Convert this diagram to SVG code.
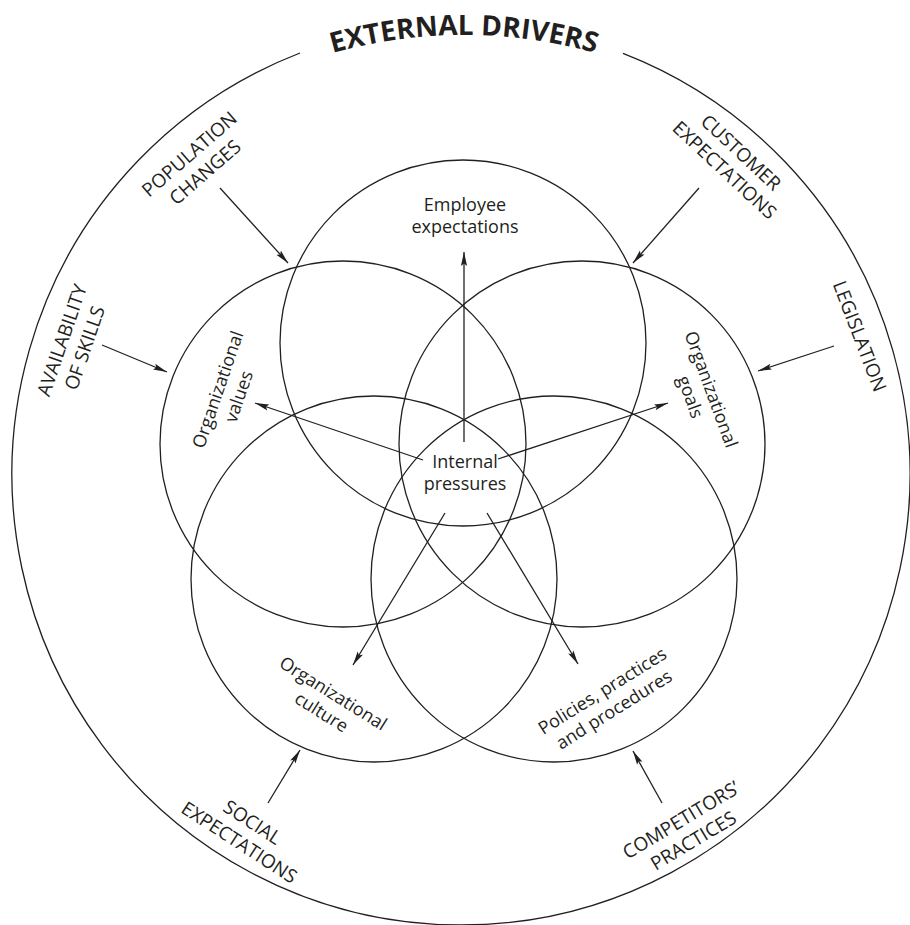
<svg xmlns="http://www.w3.org/2000/svg" width="910" height="925" viewBox="0 0 910 925">
<defs>
<style>
.c{fill:none;stroke:#231f20;stroke-width:1.3}
.t{font-family:"Open Sans","Liberation Sans",sans-serif;font-size:18px;fill:#231f20;text-anchor:middle}
.x{font-family:"Open Sans","Liberation Sans",sans-serif;font-size:19px;fill:#231f20;text-anchor:middle}
.h{font-family:"Open Sans","Liberation Sans",sans-serif;font-size:28px;font-weight:bold;fill:#231f20}
.a{stroke:#231f20;stroke-width:1.3;fill:none;marker-end:url(#ah)}
</style>
<marker id="ah" markerUnits="userSpaceOnUse" markerWidth="16" markerHeight="8" refX="14" refY="4" orient="auto">
<path d="M0,0.9 L14,4 L0,7.1 L2.5,4 z" fill="#231f20"/>
</marker>
<path id="titleArc" d="M 259 80.4 A 485 485 0 0 1 669 80.4" fill="none"/>
</defs>
<rect width="910" height="925" fill="#ffffff"/>

<g id="external-drivers">
<path class="c" d="M 623 53.4 A 449 451 0 1 1 300 53"/>
<text class="h"><textPath href="#titleArc" startOffset="50%" text-anchor="middle">EXTERNAL DRIVERS</textPath></text>
</g>

<g id="employee-expectations">
<circle class="c" cx="463" cy="343" r="183"/>
<text class="t" x="465" y="211">Employee</text>
<text class="t" x="465" y="233">expectations</text>
</g>

<g id="organizational-values">
<circle class="c" cx="343" cy="444" r="183"/>
<text class="t" transform="translate(228,393) rotate(-71)"><tspan x="0" y="-4.5">Organizational</tspan><tspan x="0" y="17.5">values</tspan></text>
</g>

<g id="organizational-goals">
<circle class="c" cx="582" cy="444" r="183"/>
<text class="t" transform="translate(701,393) rotate(70)"><tspan x="0" y="-4.5">Organizational</tspan><tspan x="0" y="17.5">goals</tspan></text>
</g>

<g id="organizational-culture">
<circle class="c" cx="374" cy="579" r="183"/>
<text class="t" transform="translate(327.5,702.5) rotate(32)"><tspan x="0" y="-4.5">Organizational</tspan><tspan x="0" y="17.5">culture</tspan></text>
</g>

<g id="policies-practices-procedures">
<circle class="c" cx="554" cy="579" r="183"/>
<text class="t" transform="translate(608,700) rotate(-32)"><tspan x="0" y="-4.5">Policies, practices</tspan><tspan x="0" y="17.5">and procedures</tspan></text>
</g>

<g id="internal-pressures">
<text class="t" x="465" y="468">Internal</text>
<text class="t" x="465" y="490">pressures</text>
</g>

<g id="population-changes">
<text class="x" transform="translate(197,163) rotate(-41)"><tspan x="0" y="-5">POPULATION</tspan><tspan x="0" y="19">CHANGES</tspan></text>
</g>

<g id="availability-of-skills">
<text class="x" transform="translate(73,344) rotate(-71)"><tspan x="0" y="-5">AVAILABILITY</tspan><tspan x="0" y="19">OF SKILLS</tspan></text>
</g>

<g id="customer-expectations">
<text class="x" transform="translate(733,161) rotate(43)"><tspan x="0" y="-5">CUSTOMER</tspan><tspan x="0" y="19">EXPECTATIONS</tspan></text>
</g>

<g id="legislation">
<text class="x" transform="translate(860,336) rotate(69)"><tspan x="0" y="7">LEGISLATION</tspan></text>
</g>

<g id="social-expectations">
<text class="x" transform="translate(246,832) rotate(33)"><tspan x="0" y="-5">SOCIAL</tspan><tspan x="0" y="19">EXPECTATIONS</tspan></text>
</g>

<g id="competitors-practices">
<text class="x" transform="translate(687,830) rotate(-31)"><tspan x="0" y="-5">COMPETITORS’</tspan><tspan x="0" y="19">PRACTICES</tspan></text>
</g>

<g id="connectors">
<line class="a" x1="464" y1="442" x2="464" y2="252"/>
<line class="a" x1="423" y1="460" x2="255" y2="403"/>
<line class="a" x1="498" y1="459" x2="668" y2="403"/>
<line class="a" x1="445" y1="513" x2="353" y2="665"/>
<line class="a" x1="487" y1="513" x2="578" y2="664"/>
<line class="a" x1="220" y1="188" x2="288" y2="263"/>
<line class="a" x1="102" y1="345" x2="167" y2="372"/>
<line class="a" x1="699" y1="188" x2="633" y2="263"/>
<line class="a" x1="834" y1="346" x2="758" y2="371"/>
<line class="a" x1="268" y1="803" x2="300" y2="750"/>
<line class="a" x1="662" y1="803" x2="633" y2="751"/>
</g>
</svg>
